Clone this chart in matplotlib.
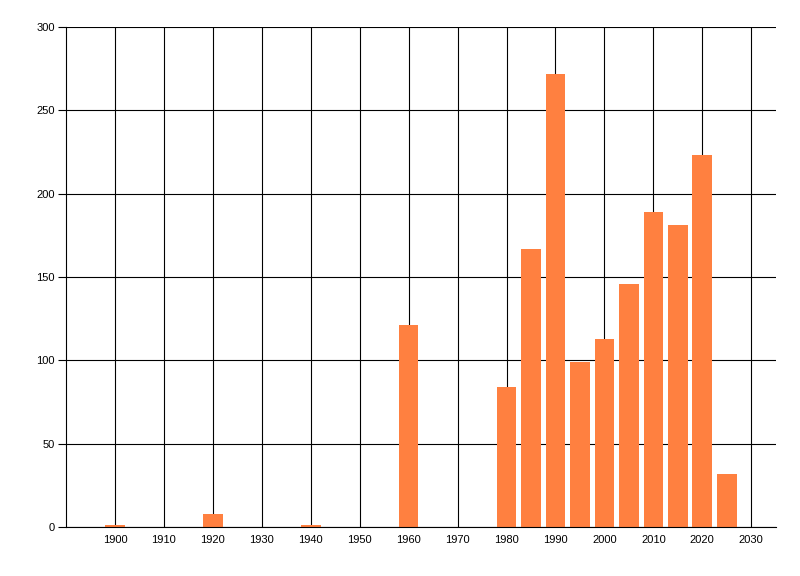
import matplotlib
matplotlib.use('Agg')
import matplotlib.pyplot as plt

# values
years = [1900, 1920, 1940, 1960, 1980, 1985, 1990, 1995, 2000, 2005, 2010, 2015, 2020, 2025]
counts = [1, 8, 1, 121, 84, 167, 272, 99, 113, 146, 189, 181, 223, 32]
xticks = list(range(1900, 2031, 10))
yticks = list(range(0, 301, 50))

plt.rcParams['font.family'] = ['Liberation Sans', 'DejaVu Sans']
plt.rcParams['font.size'] = 8

fig = plt.figure(figsize=(8, 5.76), dpi=100)
ax = fig.add_axes([66 / 800, 1 - 527 / 576, (775.7 - 66) / 800, 500 / 576])

ax.bar(years, counts, width=4, color='#FF8040', zorder=2)

ax.set_xlim(1890, 2035)
ax.set_ylim(0, 300)
ax.set_xticks(xticks)
ax.set_yticks(yticks)
ax.set_axisbelow(True)
ax.grid(True, color='black', linewidth=0.8)

for side in ['top', 'right']:
    ax.spines[side].set_visible(False)
for side in ['left', 'bottom']:
    ax.spines[side].set_linewidth(0.8)
    ax.spines[side].set_zorder(3)

ax.tick_params(axis='x', length=0, pad=6)
ax.tick_params(axis='y', length=6, width=0.8, pad=2)

fig.savefig('out.png', dpi=100)
